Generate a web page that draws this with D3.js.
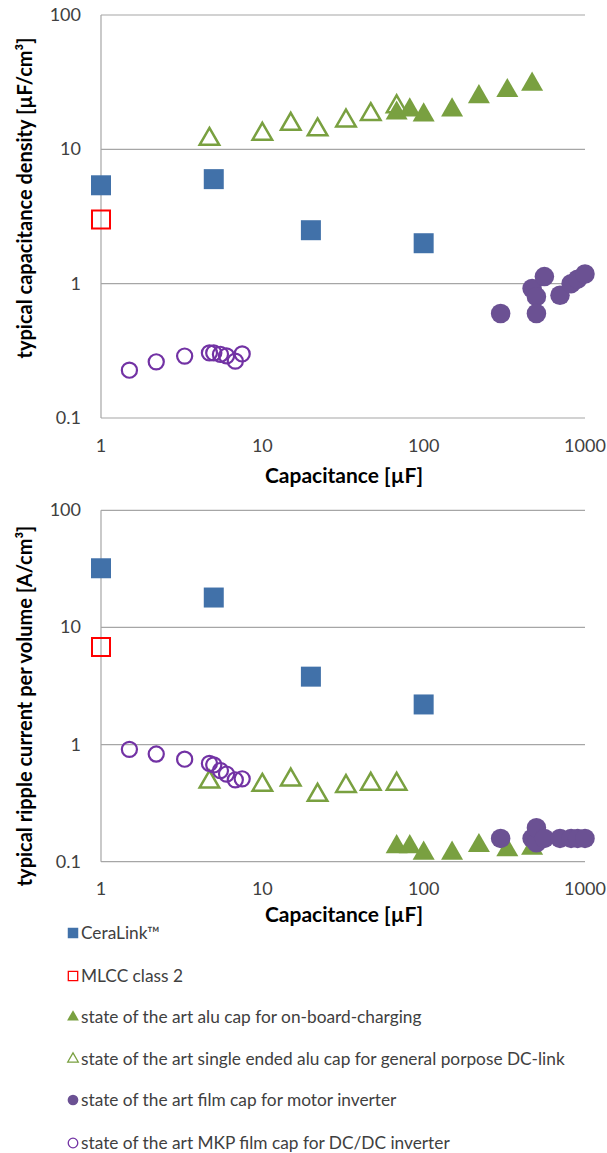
<!DOCTYPE html>
<html><head><meta charset="utf-8">
<script src="https://cdn.jsdelivr.net/npm/d3@7"></script>
<style>
body{margin:0;background:#fff;}
svg{display:block;font-family:Lato,"Open Sans",sans-serif;}
</style></head>
<body>
<svg id="c" width="607" height="1153"></svg>
<script>
// ---- data ----
const yTicks = [0.1, 1, 10, 100];
const xTicks = [1, 10, 100, 1000];
const tickLabels = ["0.1", "1", "10", "100"];
const xTickLabels = ["1", "10", "100", "1000"];

const ceraC = [1, 5, 20, 100];
const ceraDensity = [5.4, 6.0, 2.5, 2.0];
const ceraRipple = [32, 18, 3.8, 2.2];

const mlccC = [1];
const mlccDensity = [3.0];
const mlccRipple = [6.8];

const aluObcC = [68, 82, 100, 150, 220, 330, 470];
const aluObcDensity = [18.6, 19.6, 18.0, 19.6, 24.6, 27.3, 30.5];
const aluObcRipple = [0.134, 0.134, 0.118, 0.118, 0.137, 0.126, 0.13];

const aluSeC = [4.7, 10, 15, 22, 33, 47, 68];
const aluSeDensity = [11.9, 13.0, 15.4, 14.0, 16.3, 18.2, 20.8];
const aluSeRipple = [0.48, 0.45, 0.50, 0.37, 0.44, 0.46, 0.46];

const filmC = [300, 470, 500, 500, 560, 700, 820, 900, 1000];
const filmDensity = [0.60, 0.92, 0.80, 0.60, 1.13, 0.82, 1.0, 1.08, 1.18];
const filmRipple = [0.158, 0.158, 0.145, 0.195, 0.158, 0.158, 0.158, 0.158, 0.158];

const mkpC = [1.5, 2.2, 3.3, 4.7, 5.0, 5.5, 6.0, 6.8, 7.5];
const mkpDensity = [0.227, 0.262, 0.289, 0.305, 0.305, 0.298, 0.29, 0.265, 0.30];
const mkpRipple = [0.91, 0.83, 0.75, 0.69, 0.67, 0.60, 0.56, 0.50, 0.51];

const legendLabels = [
  "CeraLink™",
  "MLCC class 2",
  "state of the art alu cap for on-board-charging",
  "state of the art single ended alu cap for general porpose DC-link",
  "state of the art film cap for motor inverter",
  "state of the art MKP film cap for DC/DC inverter"
];

// ---- styles ----
const BLUE = "#4171a9", RED = "#ff0000", GREEN = "#79a040", PURPLE = "#6b5193", PURPLE2 = "#7232a4";
const series = [
  {c: ceraC, top: ceraDensity, bot: ceraRipple, type: d3.symbolSquare, size: 400, fill: BLUE, stroke: "none", sw: 0},
  {c: mlccC, top: mlccDensity, bot: mlccRipple, type: d3.symbolSquare, size: 324, fill: "none", stroke: RED, sw: 2},
  {c: aluObcC, top: aluObcDensity, bot: aluObcRipple, type: d3.symbolTriangle, size: 210, fill: GREEN, stroke: "none", sw: 0},
  {c: aluSeC, top: aluSeDensity, bot: aluSeRipple, type: d3.symbolTriangle, size: 165, fill: "none", stroke: GREEN, sw: 2.5},
  {c: filmC, top: filmDensity, bot: filmRipple, type: d3.symbolCircle, size: 300, fill: PURPLE, stroke: "none", sw: 0},
  {c: mkpC, top: mkpDensity, bot: mkpRipple, type: d3.symbolCircle, size: 180, fill: "none", stroke: PURPLE2, sw: 2.2}
];

const svg = d3.select("#c");
const x = d3.scaleLog().domain([1, 1000]).range([101, 585]);

function panel(yTop, yBot, key, ytitle, ycenter, xLabelY, xTitleY) {
  const y = d3.scaleLog().domain([0.1, 100]).range([yBot, yTop]);
  const g = svg.append("g");
  // gridlines
  g.selectAll("line.grid").data(yTicks).join("line")
    .attr("x1", x(1)).attr("x2", x(1000))
    .attr("y1", d => y(d)).attr("y2", d => y(d))
    .attr("stroke", "#a6a6a6").attr("stroke-width", 1.2);
  g.append("line").attr("x1", x(1)).attr("x2", x(1)).attr("y1", y(100)).attr("y2", y(0.1))
    .attr("stroke", "#a6a6a6").attr("stroke-width", 1.2);
  // y tick labels
  g.selectAll("text.yt").data(yTicks).join("text")
    .attr("x", 81).attr("y", d => y(d) + 6)
    .attr("text-anchor", "end").attr("font-size", 18).attr("fill", "#404040")
    .text((d, i) => tickLabels[i]);
  // x tick labels
  g.selectAll("text.xt").data(xTicks).join("text")
    .attr("x", d => x(d)).attr("y", xLabelY)
    .attr("text-anchor", "middle").attr("font-size", 18).attr("fill", "#404040")
    .text((d, i) => xTickLabels[i]);
  // titles
  g.append("text").attr("x", 344).attr("y", xTitleY).attr("text-anchor", "middle")
    .attr("font-size", 21).attr("font-weight", "bold").attr("fill", "#000").text("Capacitance [µF]");
  g.append("text").attr("transform", `translate(32,${ycenter}) rotate(-90)`).attr("text-anchor", "middle")
    .attr("font-size", 20).attr("font-weight", "bold").attr("fill", "#000").text(ytitle);
  // points
  series.forEach(s => {
    const sym = d3.symbol().type(s.type).size(s.size);
    g.append("g").selectAll("path").data(s.c.map((c, i) => [c, s[key][i]])).join("path")
      .attr("d", sym)
      .attr("transform", d => `translate(${x(d[0])},${y(d[1])})`)
      .attr("fill", s.fill).attr("stroke", s.stroke).attr("stroke-width", s.sw);
  });
}

panel(15, 418, "top", "typical capacitance density [µF/cm³]", 198, 452, 483);
panel(510.3, 861.7, "bot", "typical ripple current per volume [A/cm³]", 706, 895, 922);

// legend
const legY = [933, 976, 1017, 1059, 1100, 1143];
const lg = svg.append("g");
series.forEach((s, i) => {
  const sz = s.type === d3.symbolTriangle ? 60 : (s.type === d3.symbolCircle ? 90 : 110);
  lg.append("path").attr("d", d3.symbol().type(s.type).size(s.stroke !== "none" ? sz * 0.8 : sz))
    .attr("transform", `translate(73,${legY[i]})`)
    .attr("fill", s.fill).attr("stroke", s.stroke).attr("stroke-width", s.sw ? 1.3 : 0);
  lg.append("text").attr("x", 81).attr("y", legY[i] + 6).attr("font-size", 17.3)
    .attr("fill", "#404040").text(legendLabels[i]);
});
</script>
</body></html>
